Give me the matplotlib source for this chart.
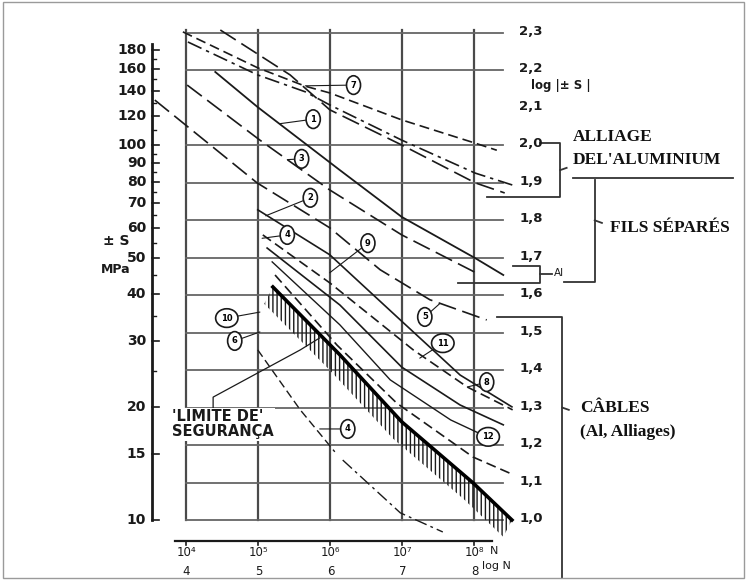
import numpy as np
import matplotlib.pyplot as plt
from matplotlib.patches import Rectangle

# curves: x = log10(N), y = log10(S)
c7a_n = [3.95, 4.99, 5.65, 5.99, 6.99, 8.01, 8.31]
c7a_s = [2.303, 2.207, 2.158, 2.140, 2.068, 2.006, 1.987]
c7b_n = [4.02, 4.99, 5.65, 5.99, 6.99, 8.01, 8.53]
c7b_s = [2.276, 2.188, 2.143, 2.108, 2.014, 1.926, 1.894]
c7c_n = [4.47, 5.44, 5.99, 6.99, 8.01, 8.42]
c7c_s = [2.308, 2.188, 2.095, 2.001, 1.900, 1.873]
c1_n = [4.40, 4.99, 6.13, 6.99, 8.01, 8.40]
c1_s = [2.196, 2.102, 1.934, 1.809, 1.699, 1.654]
c3_n = [4.01, 5.02, 5.99, 6.99, 8.03]
c3_s = [2.161, 2.014, 1.881, 1.761, 1.659]
c2_n = [3.56, 4.98, 5.99, 6.69, 7.38, 8.17]
c2_s = [2.121, 1.900, 1.780, 1.668, 1.588, 1.534]
l1_n = [4.99, 5.99, 6.97, 7.80, 8.52]
l1_s = [1.828, 1.708, 1.534, 1.387, 1.302]
l2_n = [5.06, 5.99, 7.15, 7.90, 8.53]
l2_s = [1.761, 1.633, 1.454, 1.355, 1.294]
l3_n = [5.12, 6.13, 6.99, 7.80, 8.40]
l3_s = [1.726, 1.574, 1.408, 1.307, 1.254]
l4_n = [5.19, 6.13, 6.83, 7.67, 8.17]
l4_s = [1.689, 1.521, 1.374, 1.267, 1.222]
l5_n = [5.23, 6.09, 6.92, 7.98, 8.49]
l5_s = [1.654, 1.467, 1.312, 1.168, 1.125]
ll1_n = [4.99, 5.58, 6.06]
ll1_s = [1.454, 1.294, 1.182]
ll2_n = [6.17, 6.97, 7.56]
ll2_s = [1.160, 1.019, 0.968]
limit_n = [5.20, 6.13, 6.99, 7.98, 8.52]
limit_s = [1.622, 1.441, 1.262, 1.099, 1.000]

decades = [4, 5, 6, 7, 8]
log_s_ticks = [2.3, 2.2, 2.1, 2.0, 1.9, 1.8, 1.7, 1.6, 1.5, 1.4, 1.3, 1.2, 1.1, 1.0]
mpa_ticks = [180, 160, 140, 120, 100, 90, 80, 70, 60, 50, 40, 30, 20, 15, 10]
mpa_minor = [170, 150, 130, 110, 95, 85, 75, 65, 55, 45, 35, 25]

# circled curve numbers: label, position, point the leader goes to
tags = [('7', (6.32, 2.161), (5.65, 2.159)),
        ('1', (5.76, 2.070), (5.30, 2.058)),
        ('3', (5.60, 1.964), (5.40, 1.962)),
        ('2', (5.72, 1.860), (5.10, 1.812)),
        ('4', (5.40, 1.761), (5.05, 1.752)),
        ('9', (6.52, 1.739), (5.99, 1.660)),
        ('5', (7.31, 1.542), (7.52, 1.578)),
        ('11', (7.56, 1.472), (7.24, 1.432)),
        ('8', (8.17, 1.368), (7.90, 1.355)),
        ('12', (8.19, 1.222), None),
        ('4', (6.24, 1.243), (5.85, 1.243)),
        ('10', (4.56, 1.539), (5.02, 1.555)),
        ('6', (4.67, 1.478), (5.02, 1.502))]

ink = '#1a1a1a'
fig = plt.figure(figsize=(7.47, 5.80), dpi=100)
ax = fig.add_axes([0, 0, 1, 1])
ax.set_xlim(1.410, 11.785)
ax.set_ylim(0.8398, 2.3881)
ax.axis('off')

# grid
for n in decades:
  ax.plot([n, n], [1.0, 2.308], color='#4a4a4a', lw=1.6, zorder=1)
for s in log_s_ticks:
  if s != 2.1:
    ax.plot([4.0, 8.4], [s, s], color='#666666', lw=1.3, zorder=1)
for s in log_s_ticks:
  ax.text(8.62, s + 0.004, f'{s:.1f}'.replace('.', ','), fontsize=9.5, fontweight='bold',
          va='center', ha='left', color=ink)
ax.text(8.78, 2.160, 'log |± S |', fontsize=8.5, fontweight='bold', va='center', color=ink)

# left MPa scale
ax.plot([3.52, 3.52], [1.0, 2.27], color=ink, lw=2)
for v in mpa_ticks:
  ax.plot([3.52, 3.62], [np.log10(v)] * 2, color=ink, lw=1.2)
  ax.text(3.44, np.log10(v), str(v), fontsize=10, fontweight='bold',
          ha='right', va='center', color=ink)
for v in mpa_minor:
  ax.plot([3.52, 3.57], [np.log10(v)] * 2, color=ink, lw=1.0)
ax.text(3.03, 1.745, '± S', fontsize=10, fontweight='bold', ha='center', va='center', color=ink)
ax.text(3.02, 1.670, 'MPa', fontsize=9, fontweight='bold', ha='center', va='center', color=ink)

# bottom N scale
ax.plot([3.84, 8.24], [0.944, 0.944], color=ink, lw=1.6)
sup = {4: '⁴', 5: '⁵', 6: '⁶', 7: '⁷', 8: '⁸'}
for n in decades:
  ax.plot([n, n], [0.944, 0.934], color=ink, lw=1.2)
  ax.text(n, 0.912, '10' + sup[n], fontsize=8.5, ha='center', va='center', color=ink)
  ax.text(n, 0.862, str(n), fontsize=8.5, ha='center', va='center', color=ink)
ax.text(8.27, 0.917, 'N', fontsize=8, ha='center', va='center', color=ink)
ax.text(8.31, 0.877, 'log N', fontsize=8, ha='center', va='center', color=ink)

# curves
dash = (0, (6, 3))
longdash = (0, (11, 4))
dashdot = (0, (9, 3, 2, 3))
ax.plot(c7a_n, c7a_s, color=ink, lw=1.2, ls=dash)
ax.plot(c7b_n, c7b_s, color=ink, lw=1.2, ls=dashdot)
ax.plot(c7c_n, c7c_s, color=ink, lw=1.2, ls=longdash)
ax.plot(c1_n, c1_s, color=ink, lw=1.3)
ax.plot(c3_n, c3_s, color=ink, lw=1.2, ls=longdash)
ax.plot(c2_n, c2_s, color=ink, lw=1.2, ls=longdash)
ax.plot(l1_n, l1_s, color=ink, lw=1.2)
ax.plot(l2_n, l2_s, color=ink, lw=1.2, ls=dash)
ax.plot(l3_n, l3_s, color=ink, lw=1.2)
ax.plot(l4_n, l4_s, color=ink, lw=1.0)
ax.plot(l5_n, l5_s, color=ink, lw=1.2, ls=dash)
ax.plot(ll1_n, ll1_s, color=ink, lw=1.0, ls=dash)
ax.plot(ll2_n, ll2_s, color=ink, lw=1.0, ls=dashdot)

# safety limit with hatched band
bx = np.array(limit_n)
by = np.array(limit_s)
ax.fill(np.concatenate([bx, (bx - 0.12)[::-1]]), np.concatenate([by, (by - 0.045)[::-1]]),
        facecolor='none', edgecolor=ink, lw=0, hatch='||||', zorder=2)
ax.plot(bx, by, color='black', lw=2.6, zorder=3)

for lab, pos, tgt in tags:
  if tgt is None:
    ax.text(pos[0], pos[1], lab, fontsize=6, fontweight='bold', ha='center', va='center',
            bbox=dict(boxstyle='ellipse,pad=0.25', fc='white', ec=ink, lw=1.2), zorder=5)
  else:
    ax.annotate(lab, xy=tgt, xytext=pos, fontsize=6, fontweight='bold', ha='center', va='center',
                bbox=dict(boxstyle='ellipse,pad=0.25', fc='white', ec=ink, lw=1.2),
                arrowprops=dict(arrowstyle='-', lw=0.8, color=ink, shrinkA=0, shrinkB=0), zorder=5)

# limite de seguranca label
ax.plot([4.37, 4.37, 5.58, 5.85], [1.246, 1.328, 1.454, 1.486], color=ink, lw=0.9)
ax.text(3.80, 1.256, "'LIMITE DE'\nSEGURANÇA", fontsize=10.5, fontweight='bold', ha='left',
        va='center', linespacing=1.0, color=ink,
        bbox=dict(boxstyle='square,pad=0.1', fc='white', ec='none'), zorder=4)

# right side brackets and notes
lk = dict(color='#333333', lw=1.3)
ax.plot([8.17, 9.19, 9.19, 8.91], [1.862, 1.862, 2.006, 2.006], **lk)
ax.plot([9.19, 9.28], [1.934, 1.940], **lk)
ax.plot([9.37, 11.59], [1.913, 1.913], **lk)
ax.plot([9.67, 9.67, 9.25], [1.908, 1.635, 1.635], **lk)
ax.plot([9.67, 9.77], [1.80, 1.793], **lk)
ax.plot([8.53, 8.91, 8.91, 7.77], [1.678, 1.678, 1.633, 1.633], **lk)
ax.plot([8.91, 9.08], [1.656, 1.656], **lk)
ax.text(9.10, 1.659, 'Al', fontsize=7.5, va='center', ha='left', color=ink)
ax.plot([8.31, 9.22, 9.22], [1.542, 1.542, 0.845], **lk)
ax.plot([9.22, 9.31], [1.30, 1.294], **lk)

serif = dict(family='Liberation Serif', fontweight='bold', fontsize=12.5, color='#111111', va='center')
ax.text(9.37, 2.022, 'ALLIAGE', **serif)
ax.text(9.37, 1.961, "DEL'ALUMINIUM", **serif)
ax.text(9.88, 1.780, 'FILS SÉPARÉS', **serif)
ax.text(9.47, 1.299, 'CÂBLES', **serif)
ax.text(9.47, 1.235, '(Al, Alliages)', **serif)

fig.patches.append(Rectangle((0.004, 0.004), 0.992, 0.992, transform=fig.transFigure,
                             fill=False, ec='#9a9a9a', lw=1))

fig.savefig('out.png', dpi=100)
